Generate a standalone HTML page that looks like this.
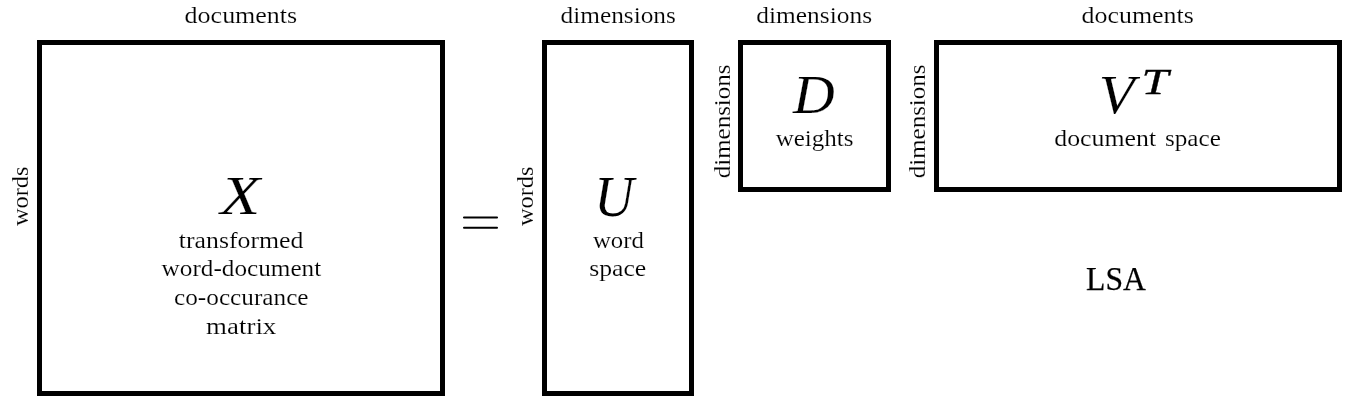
<!DOCTYPE html>
<html><head><meta charset="utf-8">
<style>
html,body{margin:0;padding:0;background:#fff;width:1366px;height:411px;overflow:hidden}
svg{display:block;will-change:transform}
text{font-family:"Liberation Serif",serif;fill:#000;stroke:#fff;stroke-width:0.15px}
.it{font-style:italic}
</style></head><body>
<svg width="1366" height="411" viewBox="0 0 1366 411">
<rect x="0" y="0" width="1366" height="411" fill="#fff"/>
<g fill="none" stroke="#000" stroke-width="5">
<rect x="39.5" y="42.5" width="403" height="351"/>
<rect x="544.5" y="42.5" width="147" height="351"/>
<rect x="740.5" y="42.5" width="148" height="147"/>
<rect x="936.5" y="42.5" width="403" height="147"/>
</g>
<g stroke="#000" stroke-width="2.05" stroke-linecap="round">
<line x1="464" y1="217.5" x2="497" y2="217.5"/>
<line x1="464" y1="227.8" x2="497" y2="227.8"/>
</g>
<text id="documents1" x="240.90" y="23.00" font-size="24" text-anchor="middle" textLength="112.58" lengthAdjust="spacingAndGlyphs">documents</text>
<text id="dimensions1" x="618.20" y="23.00" font-size="24" text-anchor="middle" textLength="115.34" lengthAdjust="spacingAndGlyphs">dimensions</text>
<text id="dimensions2" x="814.20" y="23.00" font-size="24" text-anchor="middle" textLength="115.74" lengthAdjust="spacingAndGlyphs">dimensions</text>
<text id="documents2" x="1137.70" y="23.00" font-size="24" text-anchor="middle" textLength="112.18" lengthAdjust="spacingAndGlyphs">documents</text>
<text id="words1" text-anchor="middle" font-size="24" textLength="59.47" lengthAdjust="spacingAndGlyphs" transform="translate(28.40,196.30) rotate(-90)">words</text>
<text id="words2" text-anchor="middle" font-size="24" textLength="59.47" lengthAdjust="spacingAndGlyphs" transform="translate(533.40,196.30) rotate(-90)">words</text>
<text id="dimR1" text-anchor="middle" font-size="24" textLength="113.74" lengthAdjust="spacingAndGlyphs" transform="translate(729.50,121.40) rotate(-90)">dimensions</text>
<text id="dimR2" text-anchor="middle" font-size="24" textLength="113.74" lengthAdjust="spacingAndGlyphs" transform="translate(925.30,121.40) rotate(-90)">dimensions</text>
<text id="X" class="it" x="240.20" y="214.20" font-size="55" text-anchor="middle" textLength="40.01" lengthAdjust="spacingAndGlyphs">X</text>
<text id="transformed" x="241.10" y="248.40" font-size="24" text-anchor="middle" textLength="124.57" lengthAdjust="spacingAndGlyphs">transformed</text>
<text id="word-document" x="241.40" y="276.10" font-size="24" text-anchor="middle" textLength="159.57" lengthAdjust="spacingAndGlyphs">word-document</text>
<text id="co-occurance" x="241.30" y="304.90" font-size="24" text-anchor="middle" textLength="134.51" lengthAdjust="spacingAndGlyphs">co-occurance</text>
<text id="matrix" x="241.20" y="333.70" font-size="24" text-anchor="middle" textLength="70.26" lengthAdjust="spacingAndGlyphs">matrix</text>
<text id="U" class="it" x="614.00" y="215.60" font-size="57.5" text-anchor="middle" textLength="39.53" lengthAdjust="spacingAndGlyphs">U</text>
<text id="word" x="618.40" y="248.40" font-size="24" text-anchor="middle" textLength="50.93" lengthAdjust="spacingAndGlyphs">word</text>
<text id="space" x="617.70" y="276.00" font-size="24" text-anchor="middle" textLength="57.10" lengthAdjust="spacingAndGlyphs">space</text>
<text id="D" class="it" x="814.00" y="112.70" font-size="55" text-anchor="middle" textLength="41.73" lengthAdjust="spacingAndGlyphs">D</text>
<text id="weights" x="814.60" y="145.50" font-size="24" text-anchor="middle" textLength="77.87" lengthAdjust="spacingAndGlyphs">weights</text>
<text id="V" class="it" x="1116.70" y="113.30" font-size="55" text-anchor="middle" textLength="35.81" lengthAdjust="spacingAndGlyphs">V</text>
<text id="T" class="it" x="1155.10" y="93.90" font-size="36.6" style="stroke:#000;stroke-width:0.3px" text-anchor="middle" textLength="26.94" lengthAdjust="spacingAndGlyphs">T</text>
<text id="docspace1" x="1105.20" y="146.20" font-size="24" text-anchor="middle" textLength="101.84" lengthAdjust="spacingAndGlyphs">document</text>
<text id="docspace2" x="1192.90" y="146.20" font-size="24" text-anchor="middle" textLength="55.90" lengthAdjust="spacingAndGlyphs">space</text>
<text id="LSA" x="1116.00" y="290.30" font-size="33.5" style="stroke:#000;stroke-width:0.25px" text-anchor="middle" textLength="59.83" lengthAdjust="spacingAndGlyphs">LSA</text>

</svg>
</body></html>
